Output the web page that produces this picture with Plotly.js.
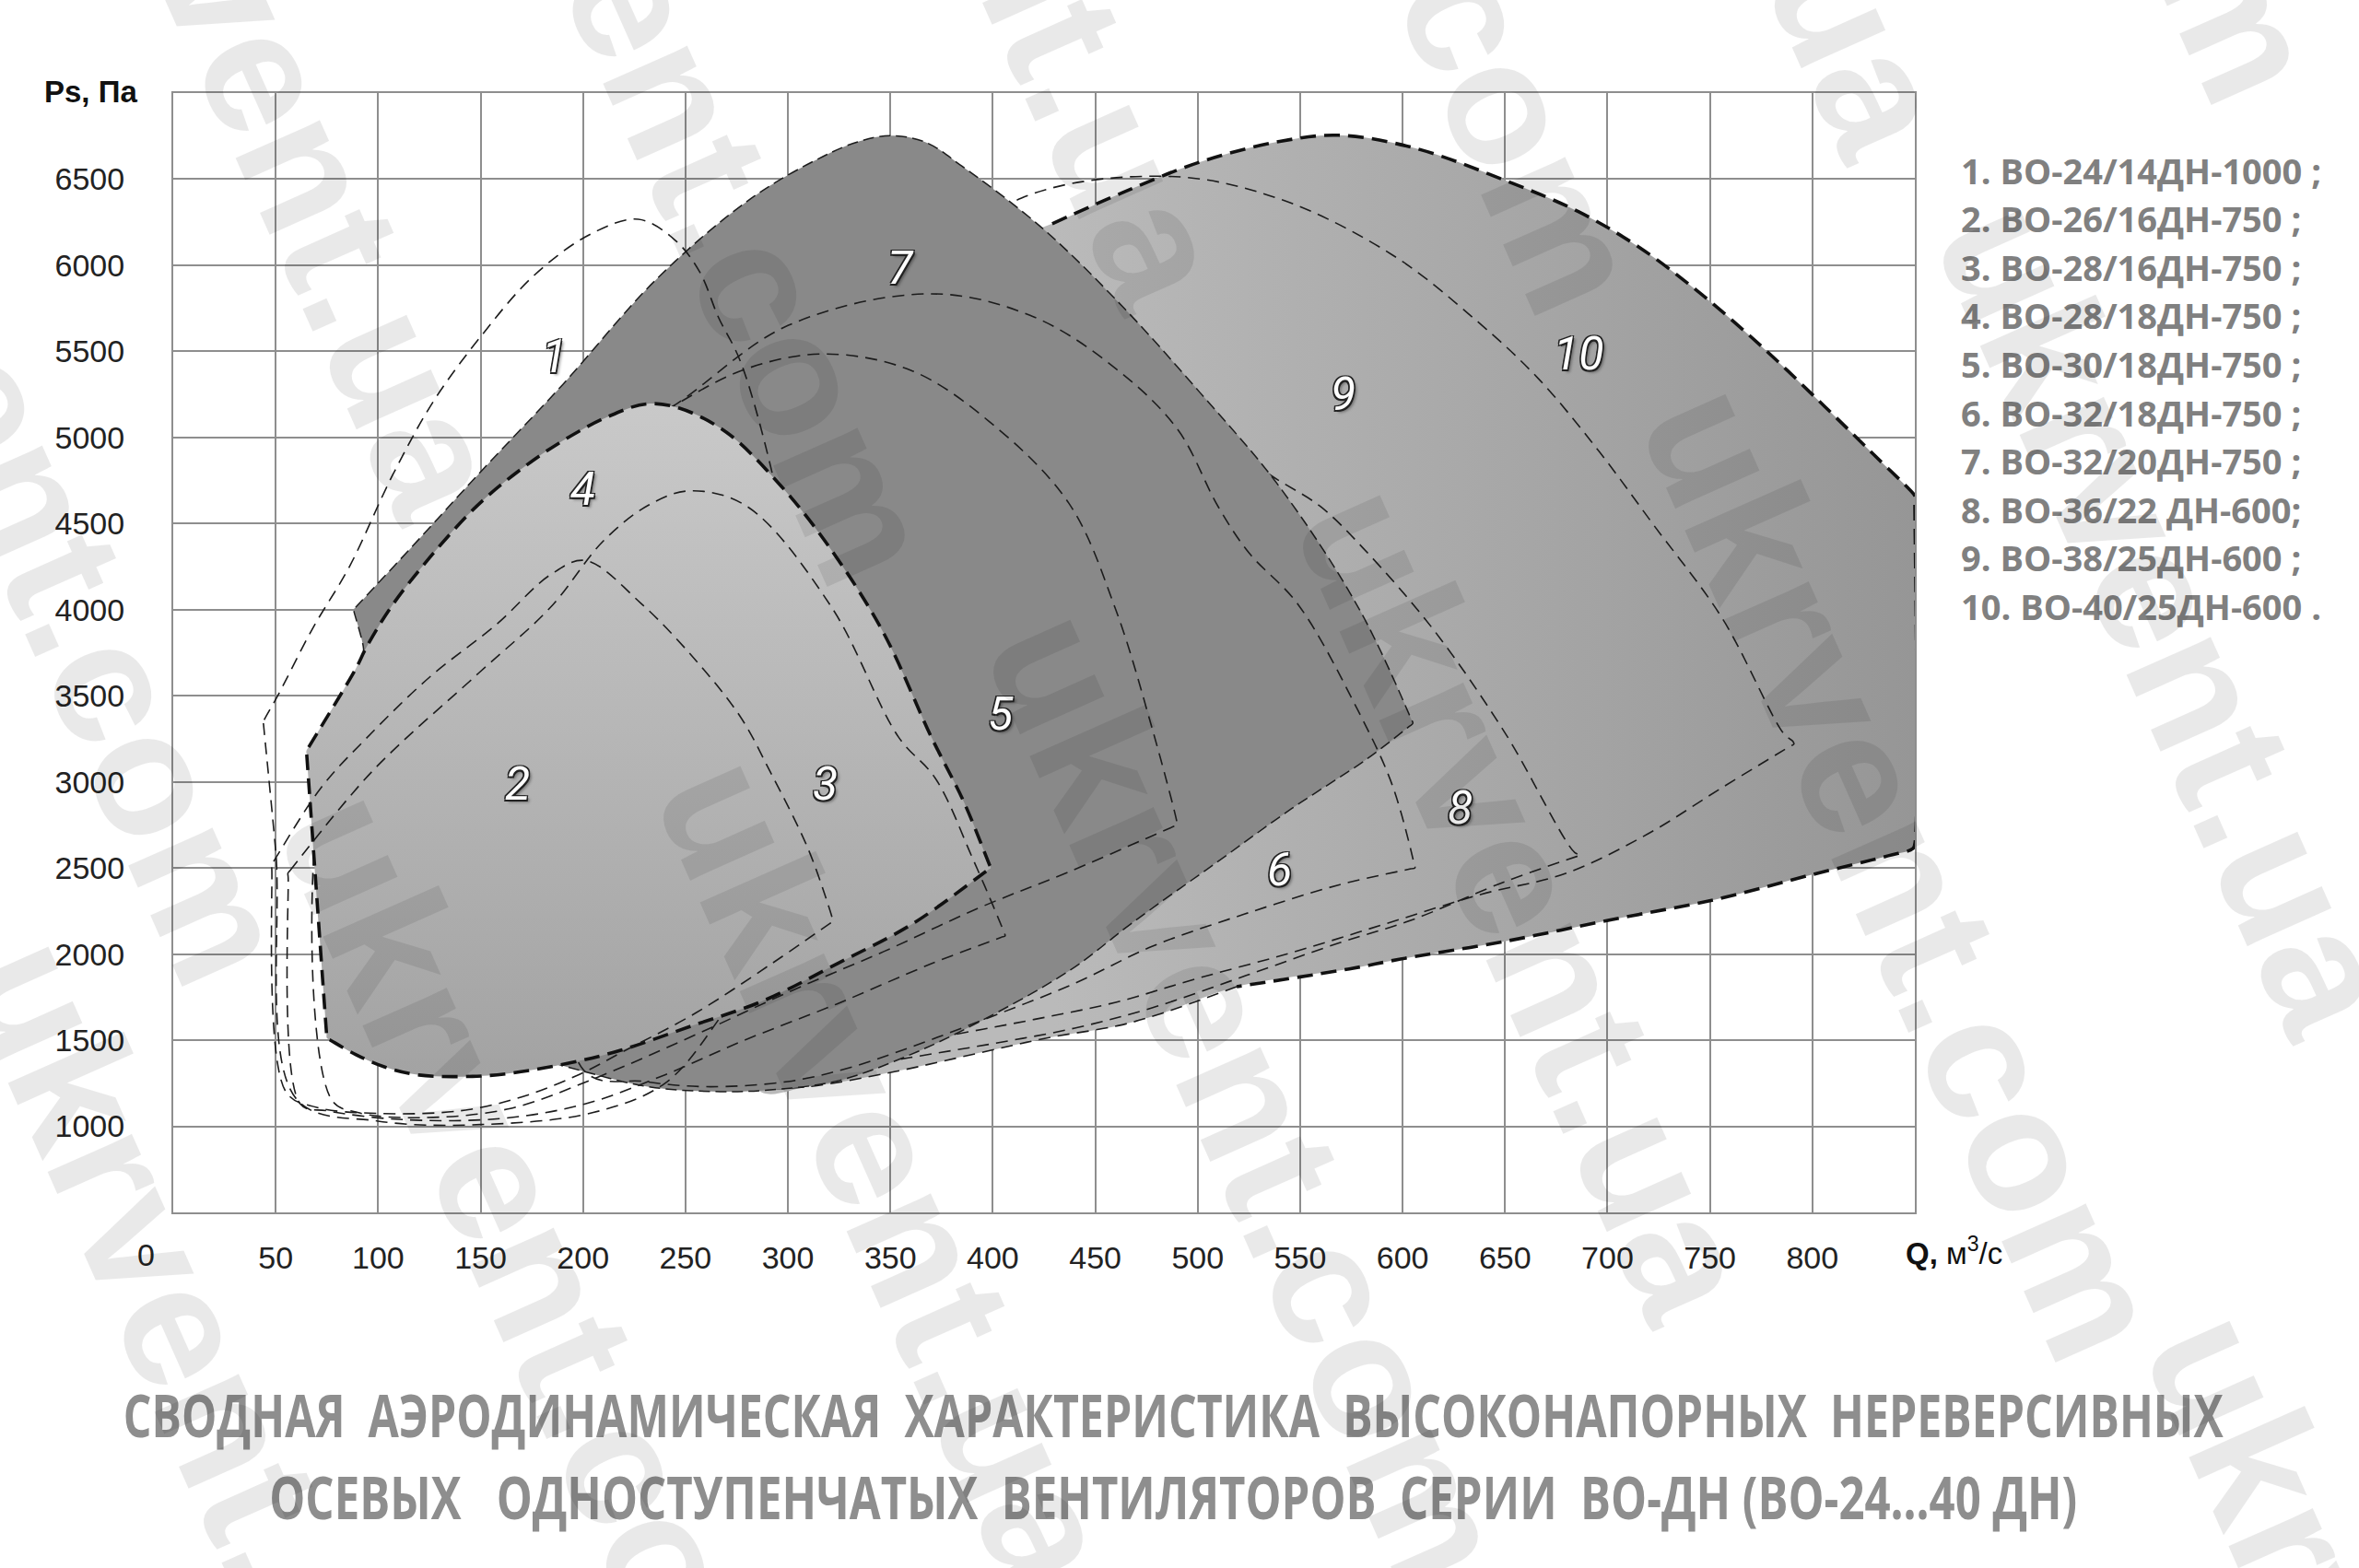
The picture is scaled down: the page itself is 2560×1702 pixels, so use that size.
<!DOCTYPE html>
<html><head><meta charset="utf-8">
<script src="https://cdn.plot.ly/plotly-3.0.1.min.js"></script>
<style>html,body{margin:0;padding:0;background:#fff;}#chart{width:2560px;height:1702px;}</style>
</head><body><div id="chart"></div>
<script>
// ---------- axis ticks ----------
const xTickVals = [50,100,150,200,250,300,350,400,450,500,550,600,650,700,750,800];
const xTickText = ['50','100','150','200','250','300','350','400','450','500','550','600','650','700','750','800'];
const yTickVals = [1000,1500,2000,2500,3000,3500,4000,4500,5000,5500,6000,6500];
const yTickText = ['1000','1500','2000','2500','3000','3500','4000','4500','5000','5500','6000','6500'];

// ---------- fan working zones (Q, м³/с ; Ps, Па), closed outlines ----------
const fan1Q = [44,44.4,51,68,86,107,127,150,176,204,227,245,257,266,277,294,305,310,300,285,265,240,205,150,100,60,50,44.1,44];
const fan1P = [3345,3360,3500,3890,4250,4780,5210,5585,5940,6183,6267,6145,5960,5700,5436,4708,4000,3200,2500,2000,1600,1250,1080,1010,1030,1160,2600,3330,3345];

const fan2Q = [48,49,72,94,125,158,184,201,228,255,277,291,310,321.5,322,320.5,292,255,221,198,170,140,100,70,55,48.1,48];
const fan2P = [2520,2538,2964,3250,3607,3917,4202,4286,4040,3706,3374,3067,2607,2215,2190,2178,1944,1658,1443,1300,1170,1090,1075,1110,1200,2495,2520];

const fan3Q = [56,57,97,149,184,210,232,252,280,321,354,372,390,405.5,406,404,370,324,278,240,201,160,110,75,62,56.1,56];
const fan3P = [2470,2485,3060,3631,4012,4400,4607,4690,4600,4020,3260,3020,2560,2125,2106,2097,1944,1711,1496,1299,1130,1045,1040,1090,1130,2445,2470];

const fan4Q = [65,66.2,89,94,106,125,148,168,190,212,231,247,270,295,318,346,370,386,398.3,399,398,361,324,288,253,218,194,166,146,120,103,89,77,75,74.8,65.2,65];
const fan4P = [3180,3204,3655,3775,4010,4300,4600,4800,4980,5120,5195,5170,5030,4740,4400,3880,3260,2880,2520,2500,2492,2177,1944,1729,1583,1440,1369,1310,1290,1298,1345,1417,1498,1512,1540,3150,3180];

const fan5Q = [78,120,160,200,243,280,318,360,398,437,460,478,489.7,490,488,438,393,347,301,255,210,164,120,90,77,78];
const fan5P = [3300,3900,4400,4850,5175,5400,5485,5390,5095,4620,4000,3300,2775,2750,2740,2482,2267,2016,1783,1532,1299,1102,1050,1080,1160,3300];

const fan6Q = [200,243,300,370,420,460,490,510,525,549,578,595,605.7,606,604,569,523,478,440,400,360,330,300,260,230,200,200];
const fan6P = [4900,5175,5650,5834,5700,5400,5050,4598,4330,4030,3420,2980,2520,2500,2495,2402,2233,2046,1830,1640,1460,1340,1260,1230,1260,1330,4900];

const fan7Q = [88,89,120,150,190,236,282,317,335,350,367,385,424,463,501,540,579,604,605,603,582,546,510,468,438,393,358,324,290,267,233,200,170,140,112,96,93,92.7,88.3,88];
const fan7P = [4000,4013,4410,4800,5306,5921,6388,6631,6720,6752,6715,6575,6217,5764,5262,4712,4000,3370,3340,3320,3128,2846,2539,2181,1909,1604,1407,1263,1210,1201,1228,1320,1430,1600,1900,2400,3740,3790,3985,4000];

const fan8Q = [300,340,380,420,460,500,530,560,581,615,650,684,687,685,650,604,569,524,478,440,400,360,320,300,300];
const fan8P = [2500,4800,5950,6000,5700,5200,4830,4598,4354,3885,3284,2590,2575,2567,2421,2196,2065,1877,1689,1570,1480,1400,1320,1290,2500];

const fan9Q = [300,360,414,486,540,595,636,666,696,722,756,786,790.5,791,789,755,720,680,638,592,546,500,460,420,380,340,300,300];
const fan9P = [4500,5900,6390,6516,6385,6060,5679,5345,4917,4500,3950,3280,3235,3220,3206,2960,2700,2470,2346,2177,2009,1859,1720,1620,1530,1440,1380,4500];

const fan10Q = [285,285,320,360,400,429,463,501,540,569,606,650,686,716,746,776,806,830,849.5,850,850,850,849,837,800,753,702,650,599,574,519,481,461,427,393,352,310,285];
const fan10P = [1215,3000,4500,5600,6100,6241,6420,6599,6719,6755,6680,6493,6310,6100,5830,5520,5180,4900,4670,4658,4630,2640,2612,2571,2462,2318,2200,2074,1971,1914,1811,1650,1584,1514,1425,1317,1230,1215];

// region numbers and where they sit
const regionNames = ['1','2','3','4','5','6','7','8','9','10'];
const regionQ = [186,168,318,200,404,540,355,628,571,686];
const regionP = [5471,2990,2990,4702,3392,2492,5986,2850,5253,5488];

// legend / titles / watermark
const legendItems = ['1. ВО-24/14ДН-1000 ;','2. ВО-26/16ДН-750 ;','3. ВО-28/16ДН-750 ;','4. ВО-28/18ДН-750 ;','5. ВО-30/18ДН-750 ;','6. ВО-32/18ДН-750 ;','7. ВО-32/20ДН-750 ;','8. ВО-36/22 ДН-600;','9. ВО-38/25ДН-600 ;','10. ВО-40/25ДН-600 .'];
const titleLines = ['СВОДНАЯ\u00a0\u00a0АЭРОДИНАМИЧЕСКАЯ\u00a0\u00a0ХАРАКТЕРИСТИКА\u00a0\u00a0ВЫСОКОНАПОРНЫХ\u00a0\u00a0НЕРЕВЕРСИВНЫХ',
                    'ОСЕВЫХ\u00a0\u00a0\u00a0ОДНОСТУПЕНЧАТЫХ\u00a0\u00a0ВЕНТИЛЯТОРОВ\u00a0\u00a0СЕРИИ\u00a0\u00a0ВО-ДН\u00a0(ВО-24...40\u00a0ДН)'];
const watermarkText = ['ukrvent.com','ukrvent.ua','ukrvent.com','ukrvent.ua','ukrvent.com','ukrvent.ua','ukrvent.com',
                       'ukrvent.ua','ukrvent.com','ukrvent.ua','ukrvent.com','ukrvent.ua','ukrvent.com','ukrvent.ua','ukrvent.com'];

// ---------- layout geometry (pixels) ----------
const W = 2560, H = 1702;
const M = {l:188, r:482, t:101, b:386};
const PW = W - M.l - M.r, PH = H - M.t - M.b;
const px2paperX = x => (x - M.l) / PW;
const px2paperY = y => (H - M.b - y) / PH;
// watermark centres (px)
const wmX = [33,300,733,1084,1501,1868,2235, 212,588,963,1355,1657,2066,2352,2613];
const wmY = [539,109,105,-119,-189,-283,-418, 1470,1388,1274,1192,980,947,670,1953];

const thin = {color:'#1c1c1c', width:1.6, dash:'13px,8px', shape:'spline', smoothing:1};
const bold = {color:'#111', width:3.6, dash:'17px,9px', shape:'spline', smoothing:1};

function outline(q, p, line) {
  return {x:q, y:p, mode:'lines', line:line, hoverinfo:'skip', showlegend:false};
}
function zone(q, p, fill, line) {
  const t = {x:q, y:p, mode:'lines', fill:'toself', hoverinfo:'skip', showlegend:false,
             line: line || {width:0, shape:'spline', smoothing:1}};
  Object.assign(t, fill);
  return t;
}

const boldFrom = fan10Q.indexOf(429), boldTo = fan10Q.indexOf(519);
const traces = [
  zone(fan10Q, fan10P, {fillcolor:'#a8a8a8', fillgradient:{type:'horizontal', start:430, stop:850, colorscale:[[0,'#bababa'],[1,'#969696']]}}),
  outline(fan8Q, fan8P, thin),
  outline(fan9Q, fan9P, thin),
  outline(fan10Q.slice(boldFrom, boldTo+1), fan10P.slice(boldFrom, boldTo+1), bold),
  outline(fan10Q.slice(boldTo), fan10P.slice(boldTo), thin),
  zone(fan7Q, fan7P, {fillcolor:'#898989'}, {color:'#1c1c1c', width:1.5, dash:'12px,6px', shape:'spline', smoothing:1}),
  outline(fan5Q, fan5P, thin),
  outline(fan6Q, fan6P, thin),
  outline(fan1Q, fan1P, thin),
  zone(fan4Q, fan4P, {fillcolor:'#b8b8b8', fillgradient:{type:'vertical', start:1300, stop:5200, colorscale:[[0,'#a3a3a3'],[1,'#c9c9c9']]}}, bold),
  outline(fan2Q, fan2P, thin),
  outline(fan3Q, fan3P, thin)
];

const annotations = [];
// region numbers
regionNames.forEach((n, i) => annotations.push({
  x: regionQ[i], y: regionP[i], xref:'x', yref:'y', text:n, showarrow:false,
  font:{family:'Roboto, Liberation Sans, sans-serif', size:50, color:'#ffffff', style:'italic',
        shadow:'-1.5px -1.5px 0 #222, 1.5px -1.5px 0 #222, -1.5px 1.5px 0 #222, 1.5px 1.5px 0 #222, 3px 3px 3px rgba(0,0,0,0.35)'}
}));
// x-axis "0"
annotations.push({x:px2paperX(158), y:px2paperY(1362), xref:'paper', yref:'paper', text:'0', showarrow:false,
  font:{family:'Liberation Sans, Arial, sans-serif', size:34, color:'#222'}, xanchor:'center', yanchor:'middle'});
// axis names
annotations.push({x:px2paperX(46), y:px2paperY(100), xref:'paper', yref:'paper', xanchor:'left', yanchor:'middle',
  text:'<b>Ps, Па</b>', showarrow:false, font:{family:'Liberation Sans, Arial, sans-serif', size:33, color:'#111'}});
annotations.push({x:px2paperX(2066), y:px2paperY(1358), xref:'paper', yref:'paper', xanchor:'left', yanchor:'middle',
  text:'<b>Q,</b> м<sup>3</sup>/с', showarrow:false, font:{family:'Liberation Sans, Arial, sans-serif', size:33, color:'#111'}});
// legend list
legendItems.forEach((t, i) => annotations.push({
  x:px2paperX(2126), y:px2paperY(184.5 + i*52.6), xref:'paper', yref:'paper', xanchor:'left', yanchor:'middle',
  text:'<b>'+t+'</b>', showarrow:false, font:{family:'Open Sans, Noto Sans, sans-serif', size:38, color:'#808080'}
}));
// title
const titleStart = annotations.length;
const titleWidths = [2279, 1962];
titleLines.forEach((t, i) => annotations.push({
  x:px2paperX(1273), y:px2paperY(1535 + i*90), xref:'paper', yref:'paper', xanchor:'center', yanchor:'middle',
  text:'<b>'+t+'</b>', showarrow:false,
  font:{family:'Open Sans, Noto Sans, sans-serif', size:64, color:'#8e8e8e'}
}));
// watermark
watermarkText.forEach((t, i) => annotations.push({
  x:px2paperX(wmX[i]), y:px2paperY(wmY[i]), xref:'paper', yref:'paper', xanchor:'center', yanchor:'middle',
  text:'<b>'+t+'</b>', showarrow:false, textangle:66,
  font:{family:'Liberation Sans, Arial, sans-serif', size:190, color:'rgba(0,0,0,0.085)'}
}));

const gridC = '#8e8e8e';
const layout = {
  width:W, height:H, margin:M, paper_bgcolor:'#fff', plot_bgcolor:'#fff', showlegend:false,
  xaxis:{range:[0,850], tickmode:'array', tickvals:xTickVals, ticktext:xTickText, showgrid:true, gridcolor:gridC, gridwidth:2,
         zeroline:false, showline:true, linecolor:gridC, linewidth:2, mirror:true, ticks:'', ticklabelstandoff:18,
         tickfont:{family:'Liberation Sans, Arial, sans-serif', size:34, color:'#222'}, fixedrange:true},
  yaxis:{range:[500,7000], tickmode:'array', tickvals:yTickVals, ticktext:yTickText, showgrid:true, gridcolor:gridC, gridwidth:2,
         zeroline:false, showline:true, linecolor:gridC, linewidth:2, mirror:true, ticks:'', ticklabelstandoff:44,
         tickfont:{family:'Liberation Sans, Arial, sans-serif', size:34, color:'#222'}, fixedrange:true},
  annotations: annotations
};
Plotly.newPlot('chart', traces, layout, {displayModeBar:false, staticPlot:true}).then(gd => {
  // squeeze the condensed-looking title lines to their measured widths
  const groups = gd.querySelectorAll('.annotation');
  titleWidths.forEach((w, i) => {
    const g = groups[titleStart + i];
    if (!g) return;
    const txt = g.querySelector('text.annotation-text');
    if (txt) { txt.setAttribute('textLength', w); txt.setAttribute('lengthAdjust', 'spacingAndGlyphs'); }
  });
});
</script></body></html>
